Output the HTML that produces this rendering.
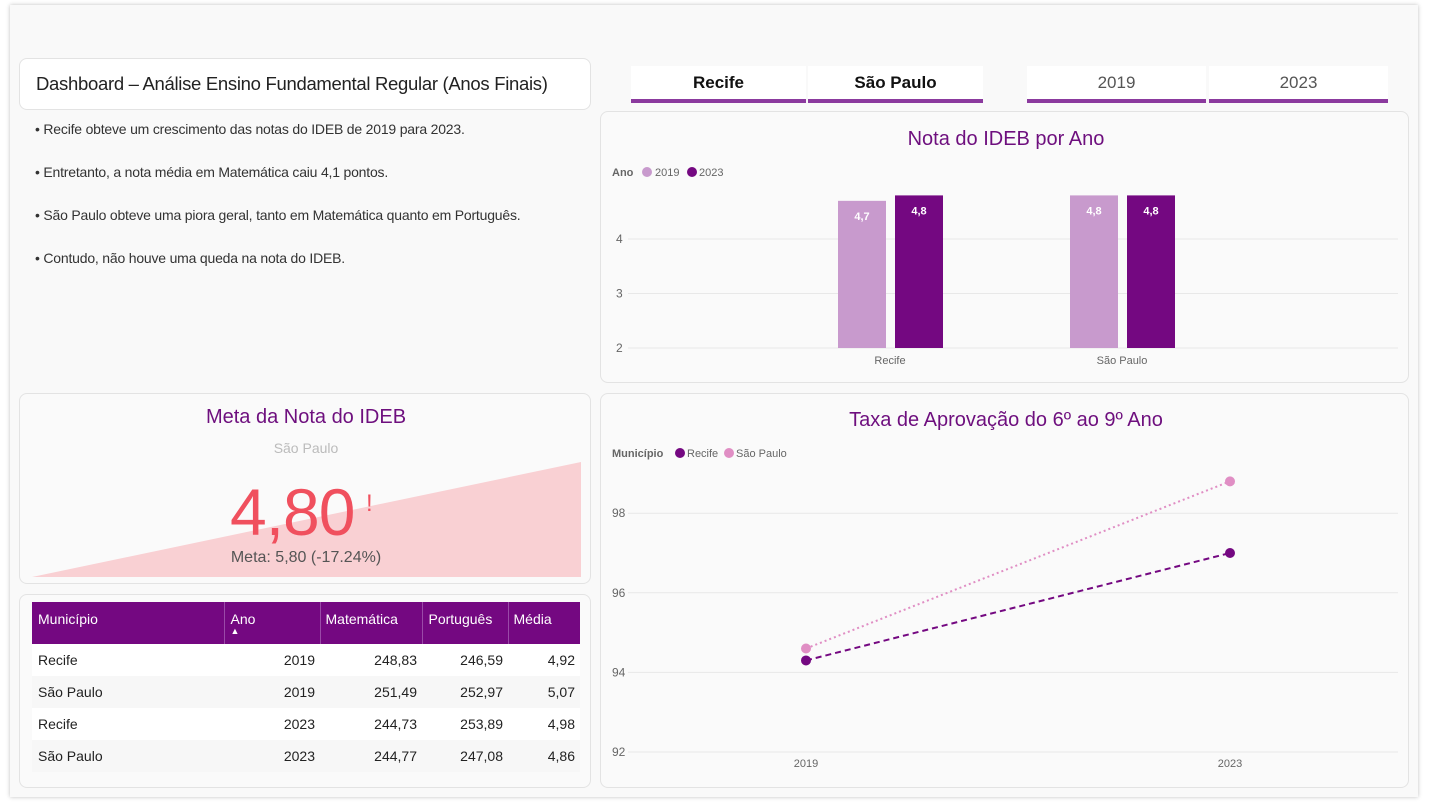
<!DOCTYPE html>
<html><head><meta charset="utf-8"><style>
*{box-sizing:border-box;margin:0;padding:0}
body{width:1429px;height:805px;background:#fff;font-family:"Liberation Sans",sans-serif;position:relative;overflow:hidden}
.frame{position:absolute;left:10px;top:5px;width:1408px;height:792px;background:#f9f9f9;box-shadow:0 0 4px rgba(0,0,0,.25)}
.card{position:absolute;border:1px solid #e3e3e3;border-radius:8px;background:#fafafa}
.abs{position:absolute}
.slicer{position:absolute;top:66px;height:37px;background:#fff;border-bottom:4px solid #8b3a9e;text-align:center;font-size:17px;line-height:34px}
.bullet{position:absolute;left:35px;font-size:14px;color:#333;white-space:nowrap;letter-spacing:-0.2px}
table{border-collapse:collapse;font-size:14px}
</style></head><body>
<div class="frame"></div>

<div class="card" style="left:19px;top:58px;width:572px;height:52px;background:#fff">
<div class="abs" style="left:16px;top:14px;font-size:18.5px;color:#222;white-space:nowrap;letter-spacing:-0.3px">Dashboard – Análise Ensino Fundamental Regular (Anos Finais)</div></div>

<div class="bullet" style="top:121px">• Recife obteve um crescimento das notas do IDEB de 2019 para 2023.</div>
<div class="bullet" style="top:164px">• Entretanto, a nota média em Matemática caiu 4,1 pontos.</div>
<div class="bullet" style="top:207px">• São Paulo obteve uma piora geral, tanto em Matemática quanto em Português.</div>
<div class="bullet" style="top:250px">• Contudo, não houve uma queda na nota do IDEB.</div>

<div class="slicer" style="left:631px;width:175px;font-weight:bold;color:#111">Recife</div>
<div class="slicer" style="left:808px;width:175px;font-weight:bold;color:#111">São Paulo</div>
<div class="slicer" style="left:1027px;width:179px;color:#555">2019</div>
<div class="slicer" style="left:1209px;width:179px;color:#555">2023</div>

<div class="card" style="left:600px;top:111px;width:809px;height:272px"></div>
<svg class="abs" style="left:0;top:0" width="1429" height="805" id="bars">
<text x="1006" y="145" text-anchor="middle" font-size="20" fill="#6e0f7e">Nota do IDEB por Ano</text>
<text x="612" y="176" font-size="11" fill="#666" font-weight="bold">Ano</text>
<circle cx="647" cy="172" r="5" fill="#c89acd"/>
<text x="655" y="176" font-size="11" fill="#666">2019</text>
<circle cx="692" cy="172" r="5" fill="#740881"/>
<text x="699" y="176" font-size="11" fill="#666">2023</text>
</svg>

<div class="card" style="left:19px;top:393px;width:572px;height:191px">
<svg class="abs" style="left:0;top:0" width="572" height="191"><polygon points="12,183 561,68 561,183" fill="#f9d0d3"/></svg>
<div class="abs" style="left:0;width:572px;top:12px;text-align:center;font-size:20px;color:#6e0f7e">Meta da Nota do IDEB</div>
<div class="abs" style="left:0;width:572px;top:46px;text-align:center;font-size:14px;color:#bbb">São Paulo</div>
<div class="abs" style="left:210px;top:80px;font-size:66px;color:#f0505e;letter-spacing:-1px">4,80</div>
<div class="abs" style="left:346px;top:96px;font-size:24px;color:#f0505e">!</div>
<div class="abs" style="left:0;width:572px;top:155px;text-align:center;font-size:16px;color:#555">Meta: 5,80 (-17.24%)</div>
</div>

<div class="card" style="left:19px;top:594px;width:572px;height:194px">
<table class="abs" style="left:12px;top:7px;width:548px">
<tr style="background:#740881;color:#fff;height:42px;vertical-align:top">
<th style="text-align:left;padding:9px 6px;font-weight:normal;width:192px;border-right:1px solid #9a4aa8">Município</th>
<th style="text-align:left;padding:9px 6px;font-weight:normal;width:96px;border-right:1px solid #9a4aa8">Ano<br><span style="font-size:9px;line-height:8px;display:block">▲</span></th>
<th style="text-align:left;padding:9px 5px;font-weight:normal;width:102px;border-right:1px solid #9a4aa8">Matemática</th>
<th style="text-align:left;padding:9px 6px;font-weight:normal;width:86px;border-right:1px solid #9a4aa8">Português</th>
<th style="text-align:left;padding:9px 5px;font-weight:normal">Média</th></tr>
<tbody id="tb"></tbody></table>
</div>

<div class="card" style="left:600px;top:393px;width:809px;height:395px"></div>
<svg class="abs" style="left:0;top:0" width="1429" height="805" id="lines">
<text x="1006" y="426" text-anchor="middle" font-size="20" fill="#6e0f7e">Taxa de Aprovação do 6º ao 9º Ano</text>
<text x="612" y="457" font-size="11" fill="#666" font-weight="bold">Município</text>
<circle cx="680" cy="453" r="5" fill="#740881"/>
<text x="687" y="457" font-size="11" fill="#666">Recife</text>
<circle cx="729" cy="453" r="5" fill="#e08ec4"/>
<text x="736" y="457" font-size="11" fill="#666">São Paulo</text>
</svg>

<script>
const barCities=["Recife","São Paulo"];
const ideb2019=[4.7,4.8];
const ideb2023=[4.8,4.8];
const barTicks=[2,3,4];
const lineYears=["2019","2023"];
const recifeRate=[94.3,97.0];
const spRate=[94.6,98.8];
const lineTicks=[92,94,96,98];
const tableRows=[["Recife","2019","248,83","246,59","4,92"],["São Paulo","2019","251,49","252,97","5,07"],["Recife","2023","244,73","253,89","4,98"],["São Paulo","2023","244,77","247,08","4,86"]];
const NS="http://www.w3.org/2000/svg";
function mk(svg,t,a){const e=document.createElementNS(NS,t);for(const k in a)e.setAttribute(k,a[k]);svg.appendChild(e);return e;}
const bs=document.getElementById('bars');
const by=v=>348-(v-2)*54.5;
const bx=i=>890+i*232;
barTicks.forEach(t=>{const l=mk(bs,'line',{x1:628,x2:1398,y1:by(t),y2:by(t),stroke:'#e8e8e8'});


const tx=mk(bs,'text',{x:616,y:by(t)+4,'font-size':12,fill:'#666'});tx.textContent=t;

});
barCities.forEach((c,i)=>{
[[ideb2019,'#c89acd',-52],[ideb2023,'#740881',5]].forEach(([arr,col,off],j)=>{
const v=arr[i];const r=mk(bs,'rect',{x:bx(i)+off,y:by(v),width:48,height:by(2)-by(v),fill:col});


const t=mk(bs,'text',{x:bx(i)+off+24,y:by(v)+19,'text-anchor':'middle','font-size':11,'font-weight':'bold',fill:'#fff'});t.textContent=String(v).replace('.',',');

});
const t=mk(bs,'text',{x:bx(i),y:364,'text-anchor':'middle','font-size':11,fill:'#666'});t.textContent=c;

});
const ls=document.getElementById('lines');
const ly=v=>752-(v-92)*39.8;
const lx=i=>806+i*424;
lineTicks.forEach(t=>{const l=mk(ls,'line',{x1:628,x2:1398,y1:ly(t),y2:ly(t),stroke:'#e8e8e8'});


const tx=mk(ls,'text',{x:612,y:ly(t)+4,'font-size':12,fill:'#666'});tx.textContent=t;

});
lineYears.forEach((y,i)=>{const t=mk(ls,'text',{x:lx(i),y:767,'text-anchor':'middle','font-size':11,fill:'#666'});t.textContent=y;

});
[[spRate,'#e08ec4','2 3','sp'],[recifeRate,'#740881','6 4','recife']].forEach(([arr,col,dash,n])=>{
const p=mk(ls,'polyline',{points:arr.map((v,i)=>lx(i)+','+ly(v)).join(' '),fill:'none',stroke:col,'stroke-width':2,'stroke-dasharray':dash});


arr.forEach((v,i)=>{const c=mk(ls,'circle',{cx:lx(i),cy:ly(v),r:5,fill:col});

});});
const tb=document.getElementById('tb');
tableRows.forEach((r,i)=>{const tr=document.createElement('tr');tr.style.height='32px';tr.style.background=i%2?'#f7f7f7':'#fff';


r.forEach((c,j)=>{const td=document.createElement('td');td.textContent=c;td.style.padding='0 5px 0 6px';td.style.color='#222';td.style.textAlign=j?'right':'left';tr.appendChild(td);});tb.appendChild(tr);});
</script>
</body></html>
